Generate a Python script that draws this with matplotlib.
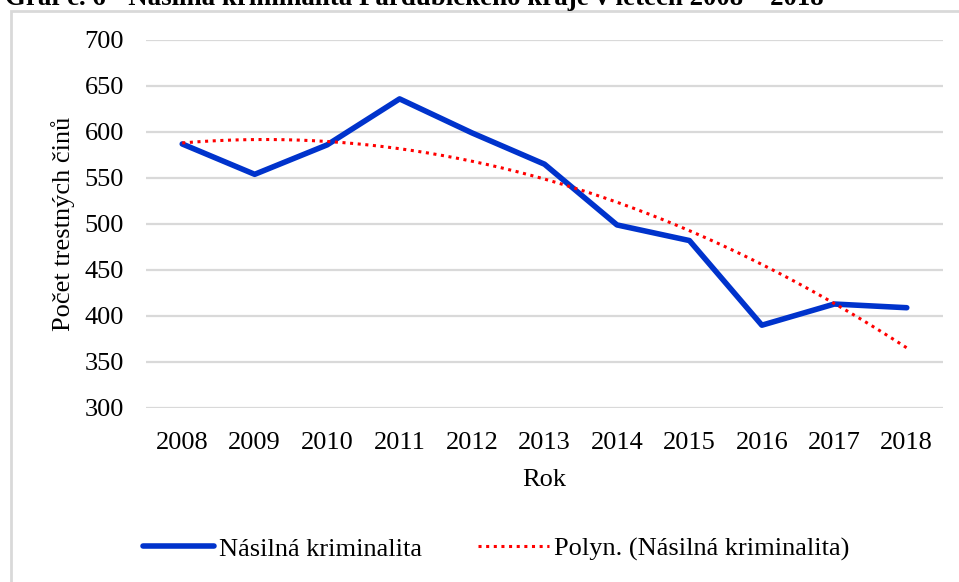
import numpy as np
import matplotlib.pyplot as plt
from matplotlib.patches import Rectangle

years = [2008, 2009, 2010, 2011, 2012, 2013, 2014, 2015, 2016, 2017, 2018]
crimes = [587, 554, 586, 636, 599, 565, 499, 482, 390, 413, 409]
yticks = [300, 350, 400, 450, 500, 550, 600, 650, 700]

plt.rcParams['font.family'] = ['Liberation Serif', 'DejaVu Serif']

fig = plt.figure(figsize=(9.59, 5.82), dpi=100)
W, H = 959, 582
ax = fig.add_axes([146 / W, 1 - 408 / H, 797 / W, 368 / H])

# outer chart frame (left and top edge visible, rest runs off the picture)
fig.patches.append(Rectangle((11 / W, -0.05), 1.2, 1 - 11 / H + 0.05,
                             transform=fig.transFigure, fill=False,
                             edgecolor='#d9d9d9', linewidth=2))

ax.plot(years, crimes, color='#0033cc', linewidth=4, solid_capstyle='round',
        solid_joinstyle='round', label='Násilná kriminalita', zorder=3)

# order 2 polynomial trendline (Excel "Polyn.")
coef = np.polyfit(years, crimes, 2)
xs = np.linspace(years[0], years[-1], 200)
ax.plot(xs, np.polyval(coef, xs), color='#ff0000', linewidth=2.2, linestyle=(0, (1, 1.5)),
        label='Polyn. (Násilná kriminalita)', zorder=4)

ax.set_xlim(2007.5, 2018.5)
ax.set_ylim(300, 700)
ax.set_yticks(yticks)
ax.set_xticks(years)
ax.yaxis.grid(True, color='#d9d9d9', linewidth=1.6)
ax.set_axisbelow(True)
for s in ax.spines.values():
    s.set_visible(False)
ax.tick_params(length=0, labelsize=19)
ax.tick_params(axis='y', pad=16)
ax.tick_params(axis='x', pad=17)
ax.set_xlabel('Rok', fontsize=19, labelpad=11)
ax.set_ylabel('Počet trestných činů', fontsize=19, labelpad=7)

fig.legend(loc='center', bbox_to_anchor=(496 / W, 1 - 549 / H), ncol=2, frameon=False,
           fontsize=19, handlelength=2.7, columnspacing=2.1, handletextpad=0.2)

# chart caption, cut off at the top edge as in the source screenshot
fig.text(5 / W, 1 - 5 / H, 'Graf č. 6 - Násilná kriminalita Pardubického kraje v letech 2008 – 2018',
         fontsize=19.4, fontweight='bold', va='baseline', ha='left')

fig.savefig('out.png', dpi=100)
